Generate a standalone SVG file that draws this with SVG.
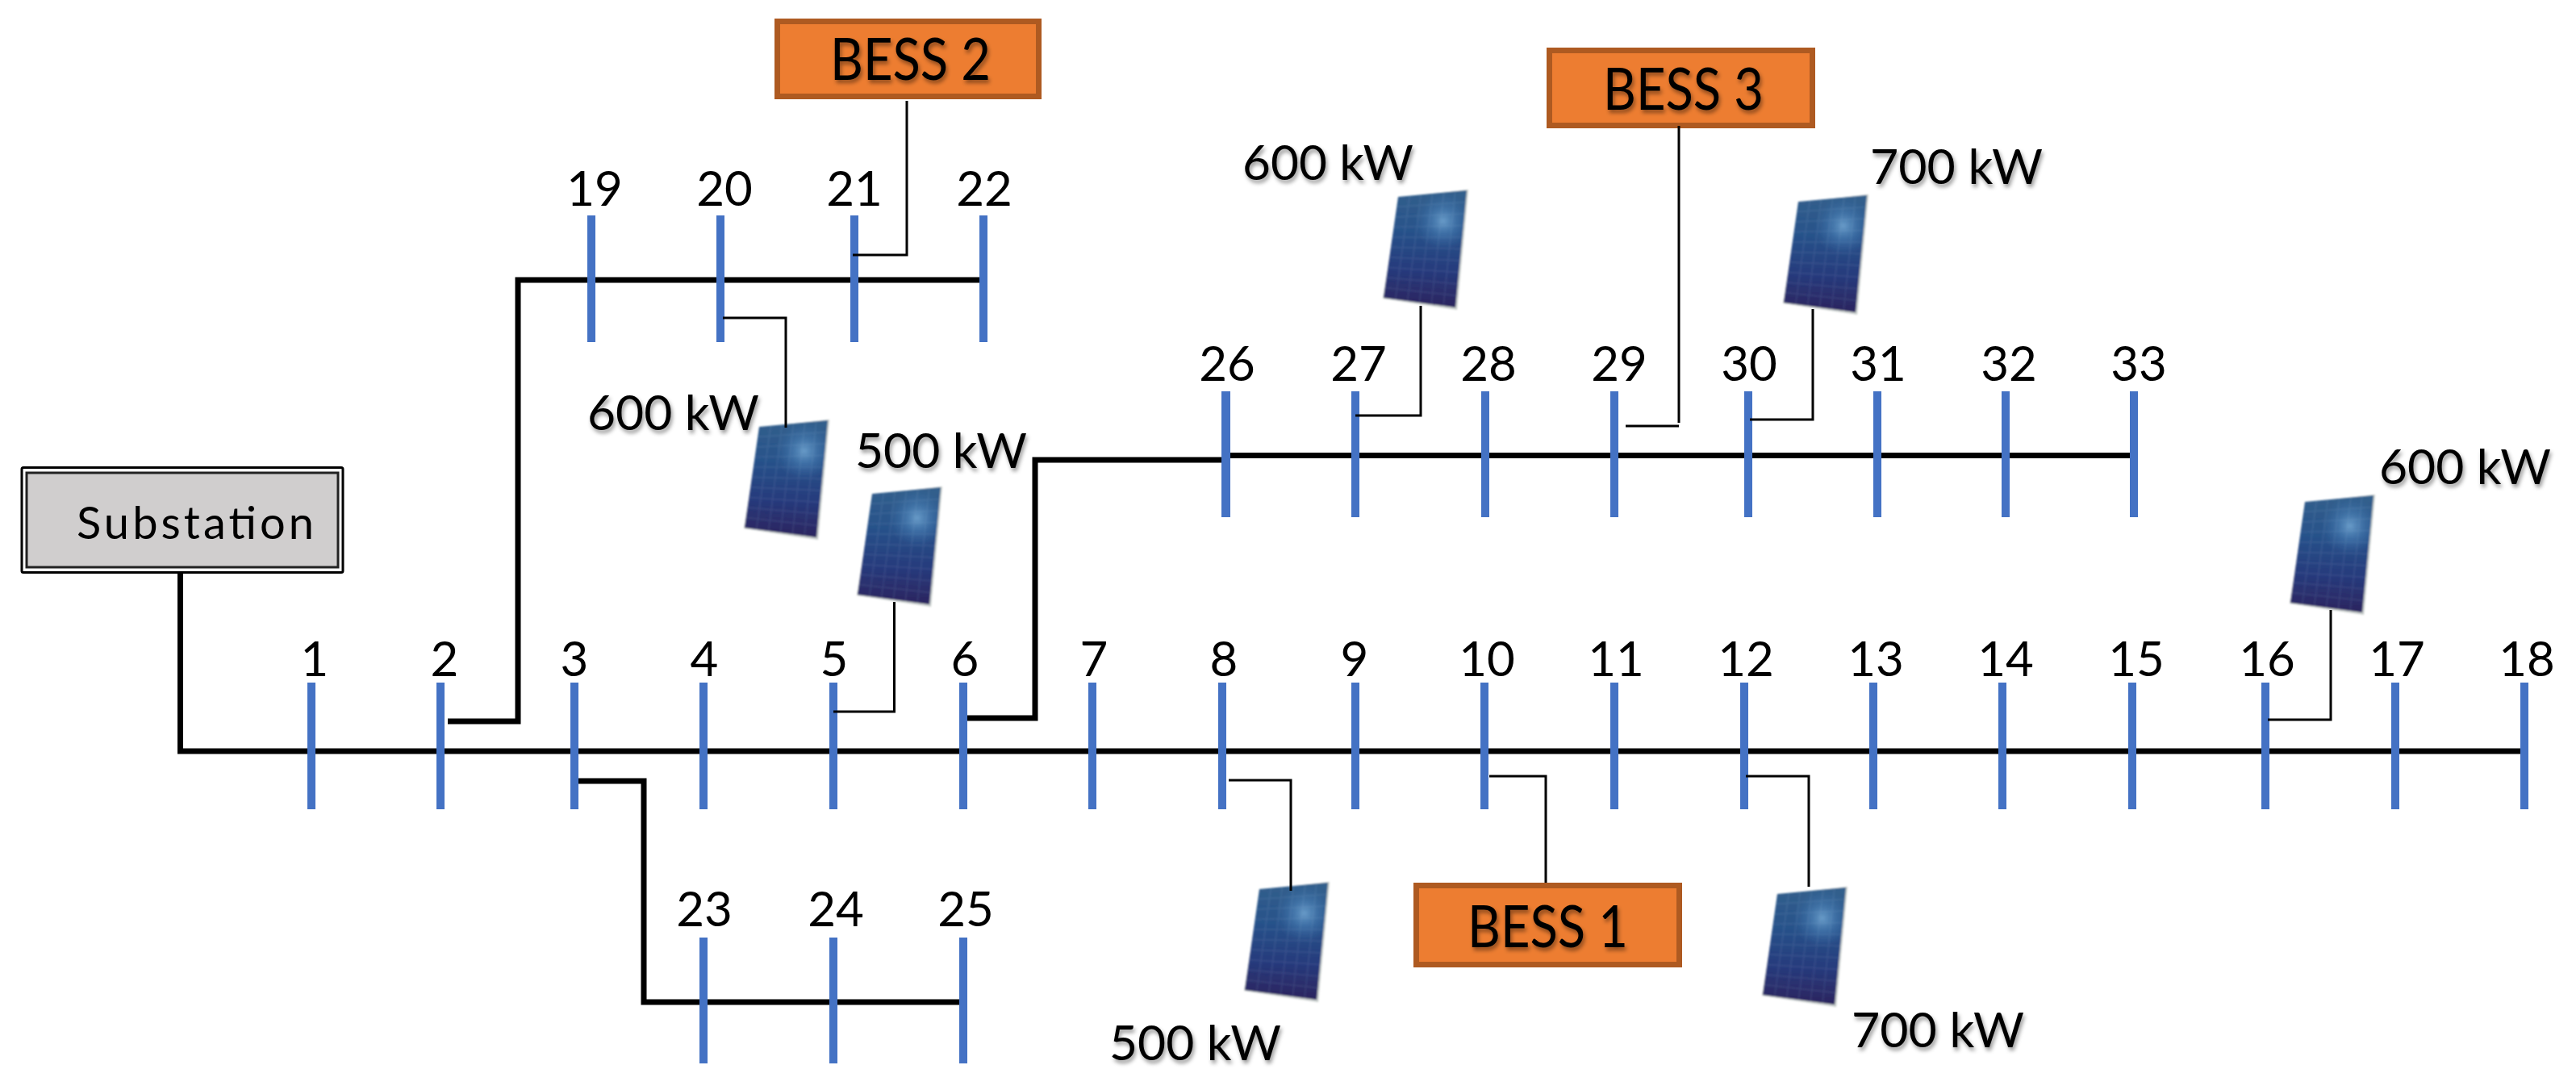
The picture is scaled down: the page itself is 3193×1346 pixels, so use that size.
<svg xmlns="http://www.w3.org/2000/svg" xmlns:xlink="http://www.w3.org/1999/xlink" width="3193" height="1346" viewBox="0 0 3193 1346">
<style>
text{font-family:"Lato","Liberation Sans",sans-serif;fill:#000}
.n{font-size:60px;text-anchor:middle}
.k{font-size:60px;filter:url(#sh)}
.b{font-size:71px;filter:url(#sh)}
.s{font-size:56px}
.bar{fill:#4472c4}
.bess{fill:#ed7d31;stroke:#ae5a21;stroke-width:7}
.thick{fill:none;stroke:#000;stroke-width:7}
.thin{fill:none;stroke:#000;stroke-width:3}
</style>
<defs>
<filter id="sh" x="-10%" y="-20%" width="120%" height="150%"><feDropShadow dx="2" dy="4" stdDeviation="2.5" flood-color="#000" flood-opacity="0.4"/></filter>
<filter id="soft" x="-10%" y="-10%" width="120%" height="120%"><feGaussianBlur stdDeviation="0.8"/></filter>
<linearGradient id="pv" gradientUnits="userSpaceOnUse" x1="35" y1="-6" x2="30" y2="134">
<stop offset="0" stop-color="#325f8c"/><stop offset="0.35" stop-color="#28528a"/><stop offset="0.7" stop-color="#283a7c"/><stop offset="1" stop-color="#2a2560"/>
</linearGradient>
<radialGradient id="glow" gradientUnits="userSpaceOnUse" cx="56" cy="30" r="36">
<stop offset="0" stop-color="#6fa3cf" stop-opacity="0.9"/><stop offset="0.5" stop-color="#4b82b8" stop-opacity="0.5"/><stop offset="1" stop-color="#3c72aa" stop-opacity="0"/>
</radialGradient>
<g id="panel" filter="url(#soft)">
<polygon points="1,1 87,-9 73,140 -19,126" fill="#c4cac8"/>
<polygon points="0,0 85,-8 71,137 -18,125" fill="url(#pv)"/>
<polygon points="0,0 85,-8 71,137 -18,125" fill="url(#glow)"/>
<path d="M14.2-1.3L-3.2 127M28.3-2.7L11.7 129M42.5-4L26.5 131M56.7-5.3L41.3 133M70.8-6.7L56.2 135M-1.8 12.5L83.6 6.5M-3.6 25L82.2 21M-5.4 37.5L80.8 35.5M-7.2 50L79.4 50M-9 62.5L78 64.5M-10.8 75L76.6 79M-12.6 87.5L75.2 93.5M-14.4 100L73.8 108M-16.2 112.5L72.4 122.5" fill="none" stroke="#9fc0e0" stroke-opacity="0.13" stroke-width="1.5"/>
</g>
</defs>
<rect width="3193" height="1346" fill="#fff"/>
<g id="node-substation">
<rect x="27" y="579.5" width="398" height="130" rx="2" fill="#fff" stroke="#000" stroke-width="3"/>
<rect x="33" y="586" width="386" height="117" fill="#d0cece" stroke="#222" stroke-width="3"/>
<text class="s" x="95" y="668" textLength="294" lengthAdjust="spacing">Substation</text>
</g>
<g id="node-bess1"><rect class="bess" x="1755.5" y="1097.5" width="326" height="98"/><text class="b" x="1819" y="1174" textLength="199" lengthAdjust="spacingAndGlyphs">BESS 1</text></g>
<g id="node-bess2"><rect class="bess" x="963.5" y="26.5" width="324" height="93"/><text class="b" x="1029" y="99" textLength="199" lengthAdjust="spacingAndGlyphs">BESS 2</text></g>
<g id="node-bess3"><rect class="bess" x="1920.5" y="62.5" width="326" height="93"/><text class="b" x="1987" y="136" textLength="199" lengthAdjust="spacingAndGlyphs">BESS 3</text></g>
<g id="node-pv20"><use href="#panel" x="941" y="529"/><text class="k" x="728" y="533" textLength="213" lengthAdjust="spacingAndGlyphs">600 kW</text></g>
<g id="node-pv5"><use href="#panel" x="1081" y="612"/><text class="k" x="1060" y="580" textLength="213" lengthAdjust="spacingAndGlyphs">500 kW</text></g>
<g id="node-pv27"><use href="#panel" x="1733" y="244"/><text class="k" x="1540" y="223" textLength="212" lengthAdjust="spacingAndGlyphs">600 kW</text></g>
<g id="node-pv30"><use href="#panel" x="2229" y="250"/><text class="k" x="2318" y="228" textLength="214" lengthAdjust="spacingAndGlyphs">700 kW</text></g>
<g id="node-pv8"><use href="#panel" x="1561" y="1102"/><text class="k" x="1375" y="1314" textLength="213" lengthAdjust="spacingAndGlyphs">500 kW</text></g>
<g id="node-pv12"><use href="#panel" x="2203" y="1108"/><text class="k" x="2295" y="1298" textLength="214" lengthAdjust="spacingAndGlyphs">700 kW</text></g>
<g id="node-pv16"><use href="#panel" x="2857" y="622"/><text class="k" x="2949" y="600" textLength="213" lengthAdjust="spacingAndGlyphs">600 kW</text></g>
<g id="bus-1"><rect class="bar" x="381" y="846" width="10" height="157"/><text class="n" x="390" y="838">1</text></g>
<g id="bus-2"><rect class="bar" x="541" y="846" width="10" height="157"/><text class="n" x="551" y="838">2</text></g>
<g id="bus-3"><rect class="bar" x="707" y="846" width="10" height="157"/><text class="n" x="712" y="838">3</text></g>
<g id="bus-4"><rect class="bar" x="867" y="846" width="10" height="157"/><text class="n" x="873" y="838">4</text></g>
<g id="bus-5"><rect class="bar" x="1028" y="846" width="10" height="157"/><text class="n" x="1034" y="838">5</text></g>
<g id="bus-6"><rect class="bar" x="1189" y="846" width="10" height="157"/><text class="n" x="1196" y="838">6</text></g>
<g id="bus-7"><rect class="bar" x="1349" y="846" width="10" height="157"/><text class="n" x="1356" y="838">7</text></g>
<g id="bus-8"><rect class="bar" x="1510" y="846" width="10" height="157"/><text class="n" x="1517" y="838">8</text></g>
<g id="bus-9"><rect class="bar" x="1675" y="846" width="10" height="157"/><text class="n" x="1679" y="838">9</text></g>
<g id="bus-10"><rect class="bar" x="1835" y="846" width="10" height="157"/><text class="n" x="1843" y="838">10</text></g>
<g id="bus-11"><rect class="bar" x="1996" y="846" width="10" height="157"/><text class="n" x="2003" y="838">11</text></g>
<g id="bus-12"><rect class="bar" x="2157" y="846" width="10" height="157"/><text class="n" x="2164" y="838">12</text></g>
<g id="bus-13"><rect class="bar" x="2317" y="846" width="10" height="157"/><text class="n" x="2325" y="838">13</text></g>
<g id="bus-14"><rect class="bar" x="2477" y="846" width="10" height="157"/><text class="n" x="2486" y="838">14</text></g>
<g id="bus-15"><rect class="bar" x="2638" y="846" width="10" height="157"/><text class="n" x="2648" y="838">15</text></g>
<g id="bus-16"><rect class="bar" x="2803" y="846" width="10" height="157"/><text class="n" x="2810" y="838">16</text></g>
<g id="bus-17"><rect class="bar" x="2964" y="846" width="10" height="157"/><text class="n" x="2971" y="838">17</text></g>
<g id="bus-18"><rect class="bar" x="3124" y="846" width="10" height="157"/><text class="n" x="3132" y="838">18</text></g>
<g id="bus-19"><rect class="bar" x="728" y="267" width="10" height="157"/><text class="n" x="737" y="255">19</text></g>
<g id="bus-20"><rect class="bar" x="888" y="267" width="10" height="157"/><text class="n" x="898" y="255">20</text></g>
<g id="bus-21"><rect class="bar" x="1054" y="267" width="10" height="157"/><text class="n" x="1059" y="255">21</text></g>
<g id="bus-22"><rect class="bar" x="1214" y="267" width="10" height="157"/><text class="n" x="1220" y="255">22</text></g>
<g id="bus-23"><rect class="bar" x="867" y="1162" width="10" height="156"/><text class="n" x="873" y="1148">23</text></g>
<g id="bus-24"><rect class="bar" x="1028" y="1162" width="10" height="156"/><text class="n" x="1036" y="1148">24</text></g>
<g id="bus-25"><rect class="bar" x="1189" y="1162" width="10" height="156"/><text class="n" x="1197" y="1148">25</text></g>
<g id="bus-26"><rect class="bar" x="1514" y="485" width="11" height="156"/><text class="n" x="1521" y="472">26</text></g>
<g id="bus-27"><rect class="bar" x="1675" y="485" width="10" height="156"/><text class="n" x="1684" y="472">27</text></g>
<g id="bus-28"><rect class="bar" x="1836" y="485" width="10" height="156"/><text class="n" x="1845" y="472">28</text></g>
<g id="bus-29"><rect class="bar" x="1996" y="485" width="10" height="156"/><text class="n" x="2007" y="472">29</text></g>
<g id="bus-30"><rect class="bar" x="2162" y="485" width="10" height="156"/><text class="n" x="2168" y="472">30</text></g>
<g id="bus-31"><rect class="bar" x="2322" y="485" width="10" height="156"/><text class="n" x="2328" y="472">31</text></g>
<g id="bus-32"><rect class="bar" x="2481" y="485" width="10" height="156"/><text class="n" x="2490" y="472">32</text></g>
<g id="bus-33"><rect class="bar" x="2640" y="485" width="10" height="156"/><text class="n" x="2651" y="472">33</text></g>
<g id="connectors">
<path class="thick" d="M223.5 711V931H381M391 931H541M551 931H707M717 931H867M877 931H1028M1038 931H1189M1199 931H1349M1359 931H1510M1520 931H1675M1685 931H1835M1845 931H1996M2006 931H2157M2167 931H2317M2327 931H2477M2487 931H2638M2648 931H2803M2813 931H2964M2974 931H3124"/>
<path class="thick" d="M555 894H642V347H728M738 347H888M898 347H1054M1064 347H1214"/>
<path class="thick" d="M1199 890H1283V570H1514M1525 564.5H1675M1685 564.5H1836M1846 564.5H1996M2006 564.5H2162M2172 564.5H2322M2332 564.5H2481M2491 564.5H2640"/>
<path class="thick" d="M717 968H798V1242H867M877 1242H1028M1038 1242H1189"/>
<path class="thin" d="M1124 125V316H1057"/>
<path class="thin" d="M896 394H974V530"/>
<path class="thin" d="M1033 882H1108.5V746"/>
<path class="thin" d="M1680 515H1761V379"/>
<path class="thin" d="M2081 156V524M2015 528H2081"/>
<path class="thin" d="M2169 520H2247V383"/>
<path class="thin" d="M1523 967H1600V1104"/>
<path class="thin" d="M1846 962H1916V1094"/>
<path class="thin" d="M2164 962H2242V1099"/>
<path class="thin" d="M2811 892H2889V756"/>
</g>
</svg>
